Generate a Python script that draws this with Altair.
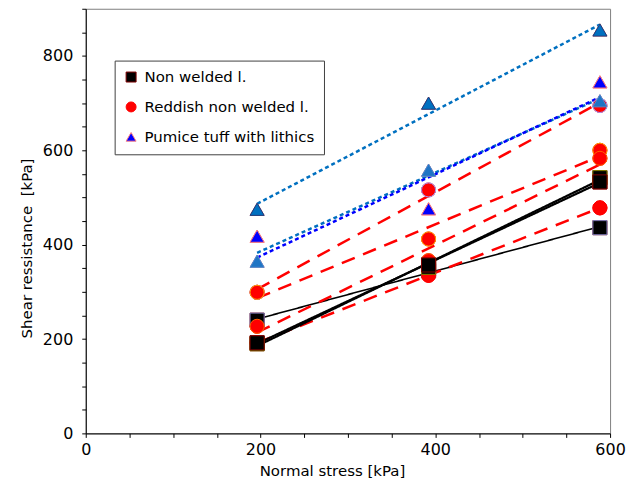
import altair as alt
import pandas as pd

# Normal stress levels [kPa]
stress = [196.1, 392.3, 588.4]

# Shear resistance [kPa] for each specimen series
nw1 = [240, 345, 436]
nw2 = [190, 352, 542]
nw3 = [192, 357, 533]
rd1 = [299, 516, 695]
rd2 = [299, 412, 600]
rd3 = [227, 366, 583]
rd4 = [192, 335, 478]
pt1 = [475, 700, 855]
pt2 = [418, 476, 745]
pt3 = [365, 558, 705]

groups = ["Non welded l.", "Reddish non welded l.", "Pumice tuff with lithics"]
x_ticks = list(range(0, 601, 50))
y_ticks = list(range(0, 901, 50))

# series: name, group, values, point fill, point edge, line colour, dash, width
series = [
    ("S1", groups[0], nw1, "#000000", "#8080C0", "#000000", [1, 0], 1.6),
    ("R1", groups[1], rd1, "#FF0000", "#A0A0FF", "#FF0000", [14, 9], 2.5),
    ("R2", groups[1], rd2, "#FF0000", "#FFA000", "#FF0000", [14, 9], 2.5),
    ("R3", groups[1], rd3, "#FF0000", "#FF6000", "#FF0000", [14, 9], 2.5),
    ("R4", groups[1], rd4, "#FF0000", "#FF0000", "#FF0000", [14, 9], 2.5),
    ("S2", groups[0], nw2, "#000000", "#808000", "#000000", [1, 0], 2.2),
    ("S3", groups[0], nw3, "#000000", "#800000", "#000000", [1, 0], 2.2),
    ("P1", groups[2], pt1, "#0070C0", "#1F3D7A", "#0070C0", [4, 3], 2.5),
    ("P2", groups[2], pt2, "#0000FF", "#FF8080", "#0070C0", [4, 3], 2.5),
    ("P3", groups[2], pt3, "#1F74C4", "#4A8BD0", "#0000FF", [4, 3], 2.5),
]

rows = []
for name, grp, vals, pf, ps, lc, dash, lw in series:
    for xv, yv in zip(stress, vals):
        rows.append({"sample": name, "group": grp, "x": xv, "y": yv,
                     "pfill": pf, "pstroke": ps})
df = pd.DataFrame(rows)

FONT = "DejaVu Sans"

x_enc = alt.X("x:Q", scale=alt.Scale(domain=[0, 600], nice=False),
              axis=alt.Axis(values=x_ticks,
                            labelExpr="datum.value % 200 === 0 ? datum.label : ''",
                            title="Normal stress [kPa]", labelFlush=False,
                            tickSize=4, labelPadding=4,
                            titleX=247, titleY=30, titleBaseline="top"))
y_enc = alt.Y("y:Q", scale=alt.Scale(domain=[0, 900], nice=False),
              axis=alt.Axis(values=y_ticks,
                            labelExpr="datum.value % 200 === 0 ? datum.label : ''",
                            title="Shear ressistance \u00a0[kPa]",
                            tickSize=4, labelPadding=9, titlePadding=8,
                            titleY=240))

base = alt.Chart(df)

line_layers = []
for name, grp, vals, pf, ps, lc, dash, lw in series:
    ln = base.transform_filter(alt.datum.sample == name).transform_regression(
        "x", "y").mark_line(color=lc, strokeDash=dash, strokeWidth=lw).encode(
        x=x_enc, y=y_enc)
    line_layers.append(ln)

legend = alt.Legend(title=None, orient="none", legendX=29, legendY=52)
shape_scale = alt.Scale(domain=groups, range=["square", "circle", "triangle-up"])
fill_scale = alt.Scale(domain=groups, range=["#000000", "#FF0000", "#0000FF"])
stroke_scale = alt.Scale(domain=groups, range=["#800000", "#FF0000", "#FF8080"])

legend_pts = base.mark_point(filled=True, size=200, strokeWidth=1, opacity=1).encode(
    x=x_enc, y=y_enc,
    shape=alt.Shape("group:N", scale=shape_scale, legend=legend),
    fill=alt.Fill("group:N", scale=fill_scale, legend=legend),
    stroke=alt.Stroke("group:N", scale=stroke_scale, legend=legend),
)

pts = base.mark_point(filled=True, size=200, strokeWidth=1, opacity=1).encode(
    x=x_enc, y=y_enc,
    shape=alt.Shape("group:N", scale=shape_scale, legend=legend),
    fill=alt.Fill("pfill:N", scale=None),
    stroke=alt.Stroke("pstroke:N", scale=None),
    order=alt.Order("idx:Q"),
).transform_window(idx="row_number()")

chart = alt.layer(*line_layers, legend_pts, pts).properties(
    width=526, height=426,
    padding={"left": 78, "top": 0, "right": 20, "bottom": 45},
    autosize=alt.AutoSizeParams(type="none"),
).configure(font=FONT).configure_view(
    stroke="#808080", strokeWidth=1
).configure_axis(
    grid=False, domainColor="#000000", tickColor="#000000",
    labelColor="#000000", titleColor="#000000",
    labelFontSize=16, titleFontSize=15, titleFontWeight="normal",
    labelFont=FONT, titleFont=FONT,
).configure_legend(
    strokeColor="#404040", fillColor="#FFFFFF", padding=9, rowPadding=14,
    labelFontSize=15, labelFont=FONT, labelColor="#000000", labelLimit=0,
    symbolSize=100, labelOffset=6, symbolStrokeWidth=1, cornerRadius=0,
)

chart.save("out.html", embed_options={"renderer": "svg", "actions": False})
